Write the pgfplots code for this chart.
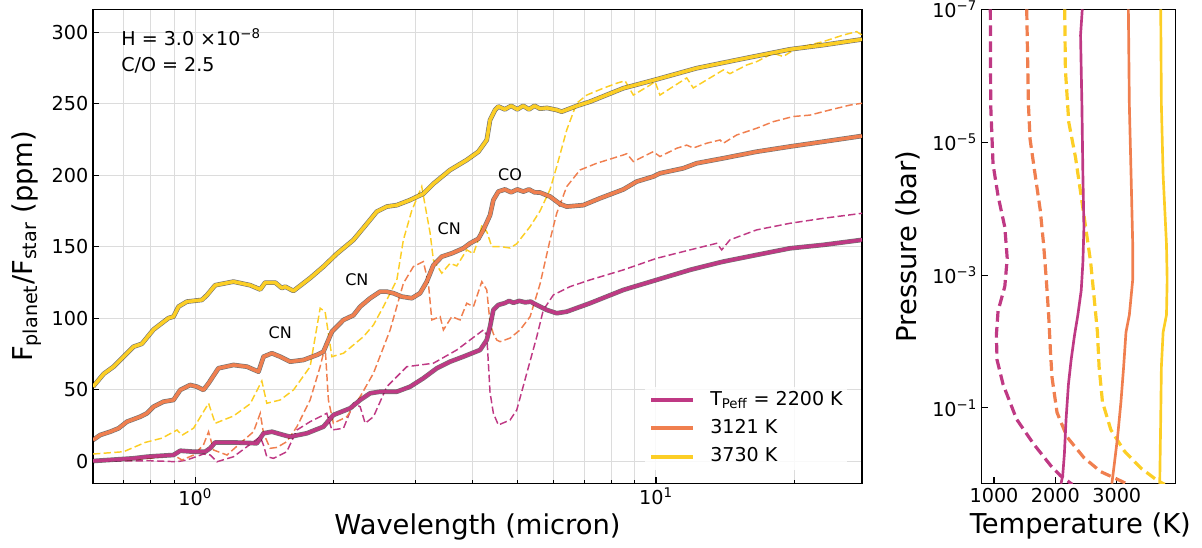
\documentclass[border=0pt]{standalone}
\usepackage{fontspec}
\setmainfont{DejaVu Sans}
\usepackage{pgfplots}
\usepackage{pgfplotstable}
\pgfplotsset{compat=1.18}
\definecolor{cP}{HTML}{BF3984}
\definecolor{cO}{HTML}{F07F4F}
\definecolor{cY}{HTML}{FCCE25}
\definecolor{gridc}{HTML}{DCDCDC}
\newcommand{\ticksize}{\fontsize{14.4}{17}\selectfont}
\newcommand{\labsize}{\fontsize{20.5}{24}\selectfont}

\pgfplotstableread{
x y
0.600 52
0.633 61
0.665 66
0.699 73
0.735 80
0.766 82
0.812 92
0.875 100
0.897 101
0.920 108
0.959 111.5
1.034 112.7
1.060 116
1.105 123
1.211 125.5
1.316 123
1.384 120
1.418 124.8
1.492 124.8
1.542 121
1.567 122
1.634 119
1.776 128
1.898 136
2.029 145
2.205 154.7
2.358 166
2.478 174.5
2.605 178
2.739 179
2.927 182.6
3.127 187
3.288 194
3.574 203.6
3.885 210.6
4.117 216.4
4.293 224.6
4.364 238.6
4.475 245.6
4.549 248
4.70 246
4.85 248.5
5.00 246
5.15 248.5
5.30 246
5.45 248.5
5.60 246.5
5.80 247
6.09 245.6
6.244 244.4
6.729 248.4
7.192 251.4
8.495 260.8
10.03 267
12.25 274.8
15.21 281
19.53 288
23.07 291
28 295
}\Ysolid

\pgfplotstableread{
x y
0.600 14.7
0.622 18.2
0.654 20.5
0.682 22.9
0.711 27.5
0.760 31
0.786 33.4
0.812 38
0.853 41.5
0.897 42.7
0.928 49.7
0.975 53.2
1.009 52
1.042 49.7
1.069 54.4
1.123 64.9
1.211 67.2
1.295 66
1.372 62.5
1.407 73
1.467 75.4
1.529 73
1.607 69.5
1.718 70.7
1.837 74.2
1.898 76.5
1.980 90.5
2.098 98.7
2.205 102
2.280 108
2.397 113.9
2.519 118.5
2.605 118.5
2.693 117.4
2.808 115
2.952 113.9
3.076 117.4
3.181 125.5
3.288 137
3.429 143
3.605 145.3
3.819 148.8
3.949 152.3
4.117 155.5
4.221 161.7
4.364 172
4.437 182.6
4.549 188.5
4.70 190
4.85 188
5.00 190
5.155 188.5
5.30 190
5.45 188
5.604 187.8
5.89 185
6.192 179.8
6.402 178
6.955 179
7.559 183.8
8.495 190
9.082 195.5
9.865 199
10.20 201.3
11.46 204.8
12.25 208.3
14.00 211.8
16.54 216.4
19.53 220
23.07 223.4
28 227.4
}\Osolid

\pgfplotstableread{
x y
0.600 0
0.735 1.9
0.786 3
0.826 3.5
0.897 4.2
0.928 7.2
0.992 6.5
1.051 6.5
1.078 9
1.105 13
1.211 13
1.361 12.4
1.407 19.4
1.467 20.5
1.554 18.2
1.607 17
1.747 19.4
1.898 24
1.995 32.2
2.169 36.9
2.280 42.7
2.397 47.4
2.519 48.5
2.739 48.5
2.927 52
3.127 57.9
3.345 64.9
3.574 69.5
3.819 73
4.152 77.7
4.293 84.7
4.364 94
4.437 105.7
4.549 109.2
4.70 110.5
4.80 112
4.904 110.7
5.05 112
5.20 111
5.35 111.5
5.419 110.4
5.793 105.7
6.09 103.4
6.402 104.5
7.192 110.4
8.495 119.7
10.03 126.7
11.85 133.7
13.70 138.8
14.00 139.5
16.54 144.2
19.53 148.8
23.07 151.2
28 154.7
}\Psolid

\pgfplotstableread{
x y
0.600 4.9
0.699 6.5
0.779 13
0.847 16
0.913 21.7
0.936 18
0.992 23
1.069 40.4
1.105 26.4
1.211 31.5
1.316 40
1.395 56
1.430 40.4
1.529 42.7
1.634 49.7
1.776 66
1.867 106.9
1.914 104.5
1.980 73
2.098 75.4
2.318 87
2.437 95.2
2.561 108
2.739 126.7
2.830 154.7
2.950 175
3.102 192
3.150 180
3.234 159.6
3.288 140.7
3.429 131.4
3.574 138.3
3.696 136.5
3.885 147.7
4.016 145
4.117 155
4.190 165
4.300 160
4.400 150
4.600 150
4.824 149
4.987 152
5.155 158
5.331 164
5.604 175
5.890 190
6.090 206
6.402 231.6
6.729 250.3
7.074 256
7.686 260.8
8.218 264.3
8.567 266
8.931 256
9.311 259.5
9.705 263
9.950 265.5
10.20 256
10.90 262
11.66 268
12.05 261
12.88 266.6
14.00 273.6
14.47 271
15.73 277
16.54 279.4
17.97 285.3
18.89 283
20.20 288.8
23.07 293.4
25.49 298
27.26 300.4
28 298
}\Ydash

\pgfplotstableread{
x y
0.600 0.7
0.711 0.7
0.799 1.9
0.897 4.2
0.936 0.7
0.992 4.2
1.042 11.2
1.069 20.5
1.096 7.7
1.172 4.2
1.252 12.4
1.338 20.5
1.384 33.4
1.407 19.4
1.454 8.9
1.504 9.5
1.580 13.5
1.662 24
1.776 42.7
1.867 66
1.914 80
1.946 42.7
1.995 26.4
2.134 31
2.280 45
2.437 61.4
2.649 91.7
2.830 124.3
2.975 136
3.127 139.5
3.207 124.3
3.262 98.7
3.401 101
3.457 91.7
3.605 101
3.757 98.7
3.885 110.4
4.016 108
4.188 125.5
4.293 119.7
4.364 96.4
4.437 89
4.512 84.7
4.587 83.5
4.824 86
5.070 91.7
5.331 101
5.604 124
5.890 154.7
6.090 173.3
6.402 192
6.841 203.6
7.437 208.3
8.495 214.1
8.641 215
8.931 209.5
9.386 213
9.865 216.4
10.20 213
11.09 218.8
11.66 221
12.05 219
12.88 222.3
13.77 224.6
14.00 222.3
14.97 228.1
16.54 232.8
17.97 237.4
19.85 241
21.58 242
23.85 245.6
26.36 249
28 250.3
}\Odash

\pgfplotstableread{
x y
0.600 0
0.799 0.2
0.913 -0.5
0.959 0.7
1.042 4.9
1.078 4.2
1.115 -0.5
1.211 3
1.295 10
1.338 13.5
1.384 17
1.407 11
1.430 3
1.479 1.9
1.580 6.5
1.662 21.7
1.776 27.5
1.930 33.4
1.980 21.7
2.098 22.9
2.205 40.4
2.280 38
2.338 26.4
2.437 31
2.605 52
2.879 66
3.288 68.4
3.696 77.7
4.221 91.7
4.293 88
4.364 48
4.437 33.4
4.549 25.2
4.824 28.7
4.987 35.7
5.243 61.4
5.512 87
5.696 105.7
5.988 116.2
6.509 122
7.192 126.7
8.495 133.7
10.03 141.8
11.85 147.7
13.54 152.3
13.89 147.7
14.47 154.7
16.54 161.7
19.53 166.3
23.07 169.8
28 173.3
}\Pdash

% Right panel: temperature (K) vs log10 pressure (bar)
\pgfplotstableread{
T lp
940 -7
946 -5.56
984 -4.67
1066 -4.19
1176 -3.72
1215 -3.25
1176 -2.83
1066 -2.46
1038 -2.09
1050 -1.72
1149 -1.35
1368 -0.83
1643 -0.46
1917 -0.14
2082 0.02
2274 0.15
}\TPd

\pgfplotstableread{
T lp
2438 -7
2410 -6.61
2432 -5.56
2448 -4.51
2465 -3.72
2448 -3.19
2421 -2.77
2366 -2.40
2311 -2.09
2256 -1.72
2212 -1.35
2174 -0.83
2146 -0.30
2119 0.02
2091 0.14
}\TPs

\pgfplotstableread{
T lp
1533 -7
1561 -5.56
1588 -5.04
1670 -4.51
1753 -3.98
1808 -3.46
1852 -2.93
1890 -2.40
1918 -1.88
1945 -1.46
2027 -0.93
2192 -0.56
2466 -0.25
2740 -0.04
3070 0.10
3180 0.15
}\TOd

\pgfplotstableread{
T lp
3189 -7
3205 -5.56
3233 -4.51
3260 -3.46
3260 -2.93
3205 -2.40
3150 -2.14
3112 -1.62
3068 -1.09
3013 -0.56
2958 -0.14
2920 0.14
}\TOs

\pgfplotstableread{
T lp
2152 -7
2163 -6.09
2218 -5.30
2328 -4.77
2410 -4.25
2493 -3.72
2575 -3.19
2630 -2.67
2685 -2.14
2712 -1.62
2767 -1.09
2904 -0.67
3124 -0.35
3398 -0.09
3673 0.10
3783 0.15
}\TYd

\pgfplotstableread{
T lp
3716 -7
3727 -5.56
3755 -4.51
3810 -3.46
3821 -2.93
3810 -2.40
3755 -2.14
3727 -1.62
3716 -0.83
3700 0.14
}\TYs

\pgfplotsset{
  mystyle/.style={
    scale only axis,
    axis line style={line width=0.8pt},
    tick align=inside,
    tick pos=left,
    tick style={line width=0.8pt, black},
    major tick length=4.5pt,
    minor tick length=2.6pt,
    tick label style={font=\ticksize},
    label style={font=\labsize},
    /pgf/number format/assume math mode=true,
    /pgf/number format/1000 sep={},
  },
  outl/.style={black, opacity=0.55, line width=3.5pt, line join=round, forget plot},
  sol/.style={line width=2.6pt, line join=round},
  dsh/.style={line width=1.1pt, dash pattern=on 5.5pt off 2.5pt, forget plot},
}

\begin{document}
\begin{tikzpicture}
\useasboundingbox (0,0) rectangle (901.5pt,411pt);
\begin{axis}[mystyle,
  at={(69.75pt,48.4pt)}, anchor=south west,
  width=576.75pt, height=355.6pt,
  xmode=log, xmin=0.6, xmax=28, ymin=-15.7, ymax=316,
  xtick={1,10}, xticklabels={10\textsuperscript{0},10\textsuperscript{1}},
  minor xtick={0.6,0.7,0.8,0.9,2,3,4,5,6,7,8,9,20},
  ytick={0,50,100,150,200,250,300},
  xmajorgrids, xminorgrids, ymajorgrids,
  major grid style={gridc, line width=0.75pt},
  minor grid style={gridc, line width=0.75pt},
  xlabel={Wavelength (micron)},
  ylabel={F\textsubscript{planet}/F\textsubscript{star} (ppm)},
  xlabel style={at={(axis description cs:0.5,-0.092)}, anchor=center},
  ylabel style={at={(axis description cs:-0.086,0.5)}, anchor=center},
  legend style={at={(rel axis cs:0.9805,0.0285)}, anchor=south east,
    draw=none, fill=white, fill opacity=0.85, text opacity=1,
    font=\fontsize{14.3}{17}\selectfont, inner sep=3pt,
    row sep=7.7pt, column sep=11.25pt,
    nodes={inner sep=0pt, text height=10.5pt, text depth=3pt}},
  legend cell align=left,
  legend image code/.code={\draw[#1, line width=3pt] (0pt,0pt) -- (31.5pt,0pt);},
]
\addplot[dsh, cP] table[x=x,y=y] {\Pdash};
\addplot[dsh, cO] table[x=x,y=y] {\Odash};
\addplot[dsh, cY] table[x=x,y=y] {\Ydash};
\addplot[outl] table[x=x,y=y] {\Psolid};
\addplot[sol, cP] table[x=x,y=y] {\Psolid};
\addlegendentry{T\textsubscript{Peff} = 2200 K}
\addplot[outl] table[x=x,y=y] {\Osolid};
\addplot[sol, cO] table[x=x,y=y] {\Osolid};
\addlegendentry{3121 K}
\addplot[outl] table[x=x,y=y] {\Ysolid};
\addplot[sol, cY] table[x=x,y=y] {\Ysolid};
\addlegendentry{3730 K}
\node[anchor=base west, font=\fontsize{14.3}{17}\selectfont] at (rel axis cs:0.0308,0.9245) {H = 3.0 ×10\textsuperscript{−8}};
\node[anchor=base west, font=\fontsize{14.3}{17}\selectfont] at (rel axis cs:0.0308,0.868) {C/O = 2.5};
\node[font=\fontsize{12}{14}\selectfont] at (axis cs:1.529,89.8) {CN};
\node[font=\fontsize{12}{14}\selectfont] at (axis cs:2.243,126.7) {CN};
\node[font=\fontsize{12}{14}\selectfont] at (axis cs:3.56,162.8) {CN};
\node[font=\fontsize{12}{14}\selectfont] at (axis cs:4.824,200.1) {CO};
\end{axis}

\begin{axis}[mystyle,
  at={(736.3pt,48.4pt)}, anchor=south west,
  width=145pt, height=355.6pt,
  xmin=800, xmax=3950, ymin=-7, ymax=0.137, y dir=reverse,
  xtick={1000,2000,3000},
  ytick={-7,-5,-3,-1},
  yticklabels={10\textsuperscript{−7},10\textsuperscript{−5},10\textsuperscript{−3},10\textsuperscript{−1}},
  minor tick num=0,
  xlabel={Temperature (K)},
  ylabel={Pressure (bar)},
  xlabel style={at={(axis description cs:0.51,-0.09)}, anchor=center},
  ylabel style={at={(axis description cs:-0.383,0.5)}, anchor=center},
]
\addplot[cP, line width=2.4pt, dash pattern=on 8pt off 4pt] table[x=T,y=lp] {\TPd};
\addplot[cO, line width=2.4pt, dash pattern=on 8pt off 4pt] table[x=T,y=lp] {\TOd};
\addplot[cY, line width=2.4pt, dash pattern=on 8pt off 4pt] table[x=T,y=lp] {\TYd};
\addplot[cP, line width=2pt, line join=round] table[x=T,y=lp] {\TPs};
\addplot[cO, line width=2pt, line join=round] table[x=T,y=lp] {\TOs};
\addplot[cY, line width=2pt, line join=round] table[x=T,y=lp] {\TYs};
\end{axis}
\end{tikzpicture}
\end{document}
